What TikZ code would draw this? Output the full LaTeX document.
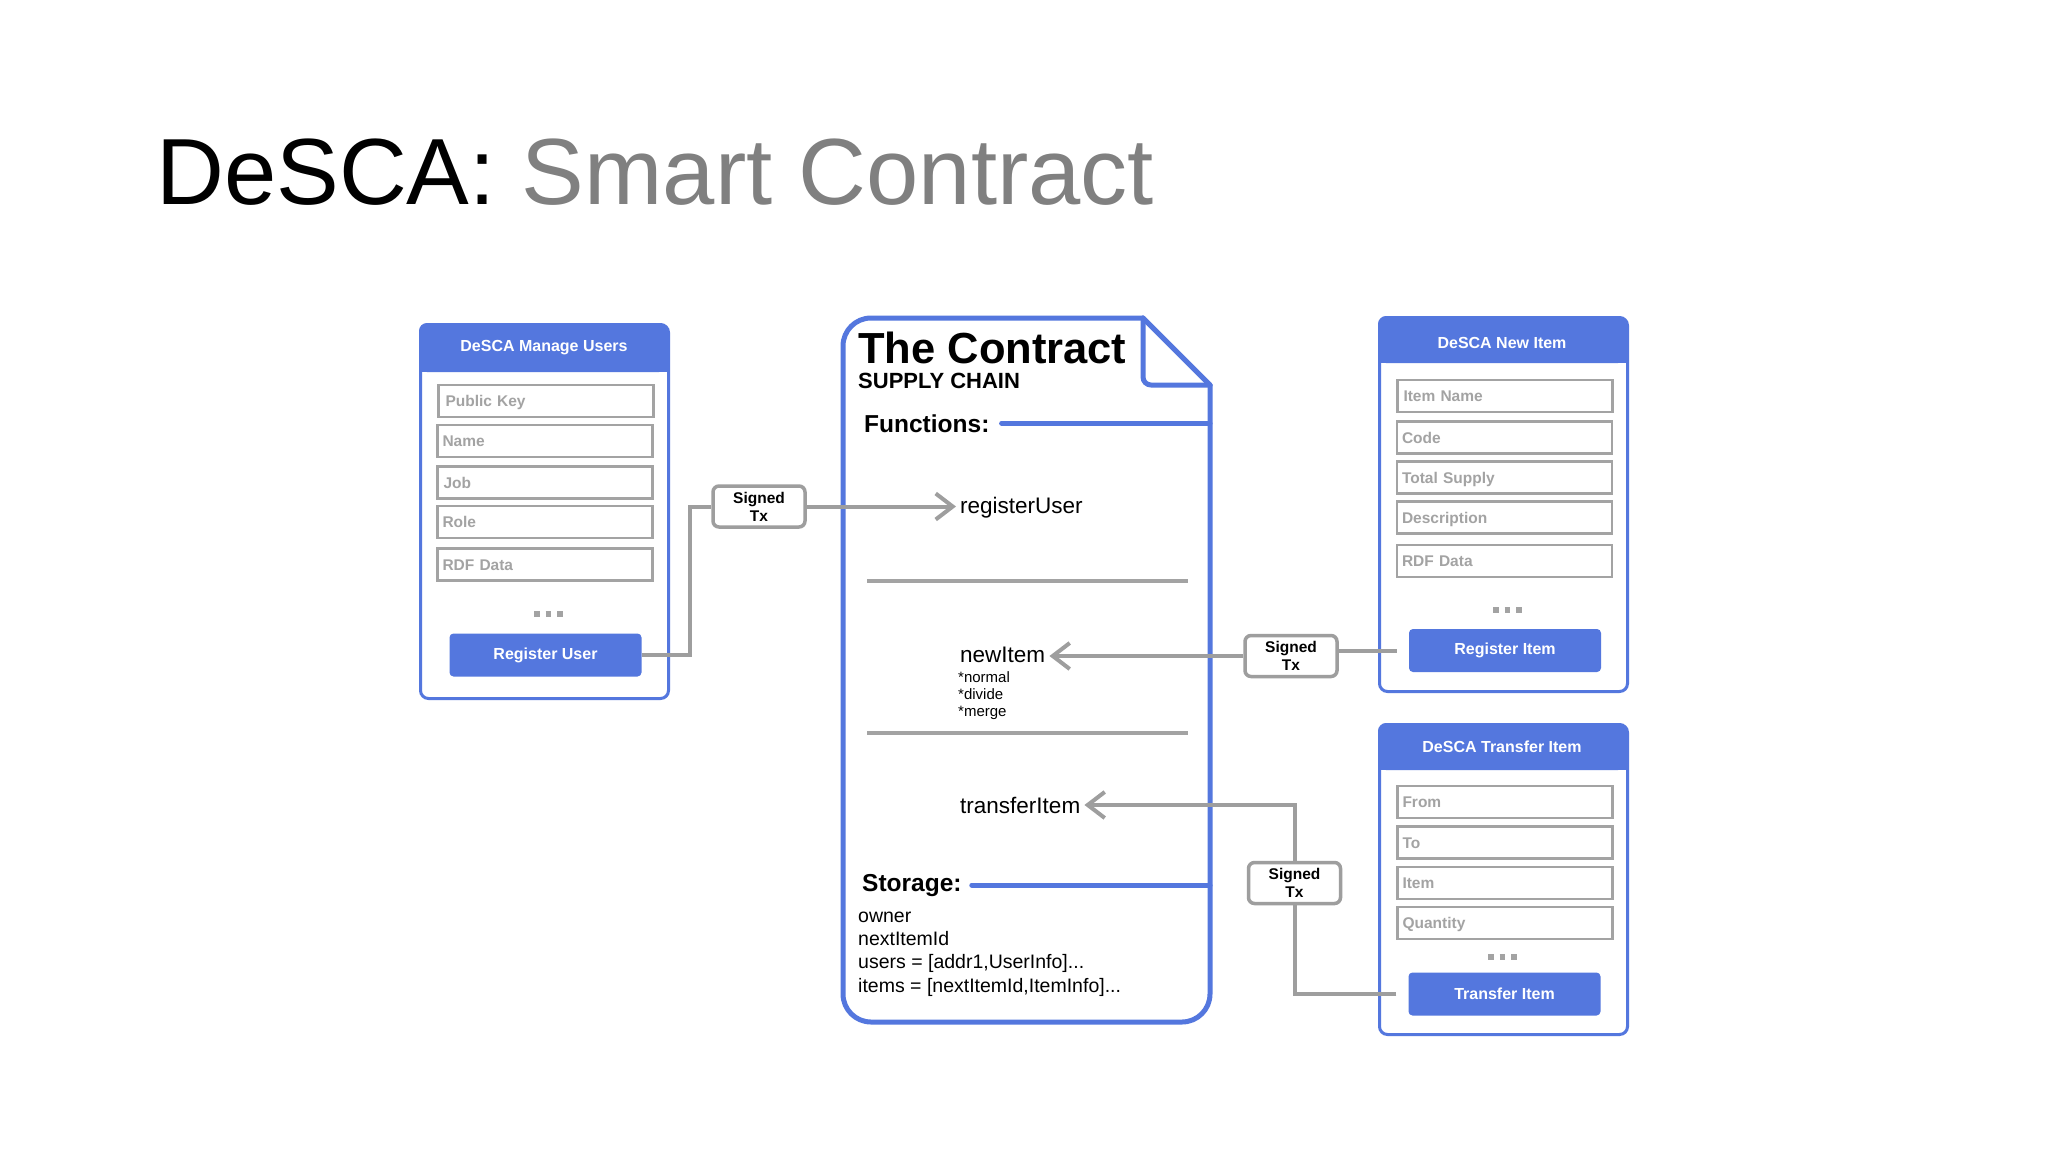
\documentclass[tikz,border=0pt]{standalone}
\usepackage{fontspec}
\setmainfont{Liberation Sans}
\usetikzlibrary{arrows.meta}
\definecolor{descablue}{RGB}{84,119,222}
\definecolor{wiregray}{RGB}{158,158,158}
\definecolor{fieldgray}{RGB}{163,163,163}
\definecolor{titlegray}{RGB}{128,128,128}

\begin{document}
\begin{tikzpicture}[x=1pt, y=-1pt,
  panel/.style={draw=descablue, line width=3pt, rounded corners=8pt, fill=white, anchor=north west, inner sep=0pt, minimum width=248pt},
  headtext/.style={text=white, font=\bfseries\fontsize{16}{19}\selectfont},
  field/.style={draw=fieldgray, line width=2.5pt, minimum width=215pt, minimum height=32pt, inner sep=0pt, text width=205pt, align=left, text height=11.5pt, text depth=0pt, text=fieldgray, font=\bfseries\fontsize{15.5}{18}\selectfont},
  more/.style={draw=fieldgray, line width=5.5pt, dash pattern=on 5.5pt off 6pt},
  btn/.style={fill=descablue, rounded corners=4pt, minimum width=192pt, minimum height=43pt, text=white, font=\bfseries\fontsize{16}{19}\selectfont},
  signed/.style={draw=wiregray, line width=3.5pt, rounded corners=6pt, fill=white, minimum width=92pt, minimum height=41pt, inner sep=0pt, align=center, font=\bfseries\fontsize{15.5}{18}\selectfont},
  docline/.style={draw=descablue, line width=5pt, line cap=round, line join=round},
  sepline/.style={draw=fieldgray, line width=4pt},
  wire/.style={draw=wiregray, line width=4pt},
  sendarrow/.style={-{Straight Barb[length=17pt, width=26pt]}},
  fn/.style={anchor=base west, inner sep=4pt, font=\fontsize{22.5}{26}\selectfont},
  sub/.style={anchor=base west, inner sep=0pt, font=\fontsize{15}{17}\selectfont},
  store/.style={anchor=base west, inner sep=0pt, font=\fontsize{19.5}{23}\selectfont},
  heading/.style={anchor=base west, inner sep=0pt, font=\bfseries\fontsize{24.5}{28}\selectfont}]

\fill[white] (0,0) rectangle (2048,1152);

\node[anchor=base west, inner sep=0pt, font=\fontsize{94}{110}\selectfont] (title) at (156,204) {DeSCA: \textcolor{titlegray}{Smart Contract}};

\node[panel, minimum height=374pt] (usersbox) at (419,323) {};
\fill[descablue, rounded corners=8pt] (419,323) rectangle (667,372);
\fill[descablue] (419,350) rectangle (667,372);
\node[headtext] (usershead) at (544,348) {DeSCA Manage Users};
\node[field] (pubkey) at (546,401) {\hspace*{2pt}Public Key};
\node[field] (uname) at (545,441) {Name};
\node[field] (job) at (545,482.5) {\hspace*{1pt}Job};
\node[field] (role) at (545,522) {Role};
\node[field] (urdf) at (545,564.5) {RDF Data};
\draw[more] (534,614) -- (562.5,614);
\node[btn] (regbtn) at (545.5,655) {Register User};

\node[panel, minimum height=374pt] (newbox) at (1378,316) {};
\fill[descablue, rounded corners=8pt] (1378,316) rectangle (1626,363);
\fill[descablue] (1378,343) rectangle (1626,363);
\node[headtext] (newhead) at (1502,343) {DeSCA New Item};
\node[field] (itemname) at (1505,396) {\hspace*{1pt}Item Name};
\node[field] (code) at (1504.5,437.5) {Code};
\node[field] (supply) at (1504.5,477.5) {Total Supply};
\node[field] (descr) at (1504.5,517.5) {Description};
\node[field] (irdf) at (1504.5,561) {RDF Data};
\draw[more] (1493,610) -- (1521.5,610);
\node[btn] (newbtn) at (1505,650.5) {Register Item};

\node[panel, minimum height=310pt] (xferbox) at (1378,723) {};
\fill[descablue, rounded corners=8pt] (1378,723) rectangle (1626,770);
\fill[descablue] (1378,750) rectangle (1626,770);
\node[headtext] (xferhead) at (1502,747) {DeSCA Transfer Item};
\node[field] (from) at (1505,802) {From};
\node[field] (to) at (1505,842.5) {To};
\node[field] (item) at (1505,883) {Item};
\node[field] (qty) at (1505,923) {Quantity};
\draw[more] (1488,957) -- (1516.5,957);
\node[btn] (xferbtn) at (1504.5,994) {Transfer Item};

\draw[docline, rounded corners=28pt] (1143,318) -- (843,318) -- (843,1022) -- (1210,1022) -- (1210,385);
\draw[docline] (1143,318) -- (1210,385);
\draw[docline, rounded corners=8pt] (1143,318) -- (1143,385) -- (1210,385);
\coordinate (docright) at (1210,0);

\node[anchor=base west, inner sep=0pt, font=\bfseries\fontsize{43.5}{48}\selectfont] (contract) at (858,363) {The Contract};
\node[anchor=base west, inner sep=0pt, font=\bfseries\fontsize{22}{26}\selectfont] (chain) at (858,388) {SUPPLY CHAIN};
\node[heading] (funcs) at (864,432) {Functions:};
\draw[docline] ([xshift=12pt]funcs.east) -- (funcs.east -| docright);

\node[fn] (reguser) at (956,513) {registerUser};
\draw[sepline] (867,581) -- (1188,581);
\node[fn] (newitem) at (956,662) {newItem};
\node[sub] (normal) at (958,682) {*normal};
\node[sub] (divide) at (958,699) {*divide};
\node[sub] (merge) at (958,716) {*merge};
\draw[sepline] (867,733) -- (1188,733);
\node[fn] (transferitem) at (956,813) {transferItem};

\node[heading] (storage) at (862,891) {Storage:};
\draw[docline] ([xshift=10pt]storage.east) -- (storage.east -| docright);
\node[store] (owner) at (858,922) {owner};
\node[store] (nextid) at (858,945) {nextItemId};
\node[store] (users) at (858,968.5) {users = [addr1,UserInfo]...};
\node[store] (items) at (858,992) {items = [nextItemId,ItemInfo]...};

\node[signed] (tx1) at (759,506.5) {Signed\\Tx};
\node[signed] (tx2) at (1291,656) {Signed\\Tx};
\node[signed] (tx3) at (1294.5,883) {Signed\\Tx};

\draw[wire] (regbtn.east) -- ++(48,0) |- (tx1.west);
\draw[wire, sendarrow] (tx1.east) -- (tx1.east -| reguser.west);
\draw[wire] ([xshift=-12pt]newbtn.west) -- (newbtn.west -| tx2.east);
\draw[wire, sendarrow] (tx2.west) -- (tx2.west -| newitem.east);
\draw[wire] ([xshift=-12pt]xferbtn.west) -| (tx3.south);
\draw[wire, sendarrow] (tx3.north) |- (transferitem.east);
\end{tikzpicture}
\end{document}
